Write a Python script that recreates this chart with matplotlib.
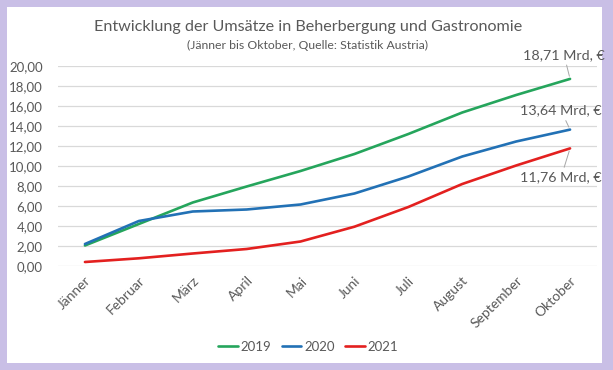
import matplotlib
matplotlib.use("Agg")
import matplotlib.pyplot as plt
from matplotlib.patches import Rectangle

# Daten (Mrd. €)
monate = ['Jänner', 'Februar', 'März', 'April', 'Mai', 'Juni', 'Juli',
          'August', 'September', 'Oktober']
jahre = ['2019', '2020', '2021']
umsatz_2019 = [2.05, 4.2, 6.35, 7.95, 9.5, 11.2, 13.2, 15.35, 17.1, 18.71]
umsatz_2020 = [2.2, 4.5, 5.45, 5.65, 6.15, 7.25, 8.95, 10.95, 12.45, 13.64]
umsatz_2021 = [0.4, 0.77, 1.25, 1.7, 2.45, 3.93, 5.9, 8.2, 10.05, 11.76]
y_ticks = [0, 2, 4, 6, 8, 10, 12, 14, 16, 18, 20]

farben = ['#25a55c', '#2271b5', '#e3201f']
grau = '#595959'

plt.rcParams['font.family'] = ['Lato', 'DejaVu Sans']

fig = plt.figure(figsize=(6.13, 3.70), dpi=100)
fig.patch.set_facecolor('#c9bfe6')
fig.patches.append(Rectangle((7 / 613, 1 - 363 / 370), 595 / 613, 356 / 370,
                             transform=fig.transFigure, facecolor='white',
                             edgecolor='none', zorder=-10))

ax = fig.add_axes([58 / 613, 1 - 266 / 370, 539 / 613, 200 / 370])
ax.set_facecolor('none')

x = list(range(len(monate)))
serien = [umsatz_2019, umsatz_2020, umsatz_2021]
for werte, jahr, farbe in zip(serien, jahre, farben):
    ax.plot(x, werte, color=farbe, lw=1.9, label=jahr, solid_capstyle='round')

ax.set_xlim(-0.5, len(monate) - 0.5)
ax.set_ylim(0, 20)
ax.set_yticks(y_ticks)
ax.set_yticklabels(['{:.2f}'.format(v).replace('.', ',') for v in y_ticks])
ax.set_xticks(x)
ax.set_xticklabels(monate, rotation=45, ha='right', rotation_mode='anchor')
ax.tick_params(length=0, colors=grau, labelsize=9.5)
ax.tick_params(axis='x', pad=6, labelsize=10)
ax.tick_params(axis='y', pad=11)
ax.grid(axis='y', color='#d9d9d9', lw=0.9)
ax.set_axisbelow(True)
for s in ax.spines.values():
    s.set_visible(False)

# Beschriftung der Endwerte
offsets = [(-6, 24), (-9, 19), (-9, -29)]
for werte, farbe, off in zip(serien, farben, offsets):
    txt = '{:.2f} Mrd. €'.format(werte[-1]).replace('.', ',')
    ax.annotate(txt, xy=(x[-1], werte[-1]), xytext=off,
                textcoords='offset pixels', ha='center', va='center',
                color=grau, fontsize=10.3, annotation_clip=False,
                arrowprops=dict(arrowstyle='-', color='#a6a6a6', lw=0.7,
                                shrinkA=1, shrinkB=2))

fig.text(0.502, 1 - 27 / 370, 'Entwicklung der Umsätze in Beherbergung und Gastronomie',
         ha='center', va='center', fontsize=11.6, color=grau)
fig.text(0.502, 1 - 45 / 370, '(Jänner bis Oktober, Quelle: Statistik Austria)',
         ha='center', va='center', fontsize=8.8, color=grau)

leg = fig.legend(loc='center', bbox_to_anchor=(308 / 613, 1 - 347 / 370), ncol=3,
                 frameon=False, fontsize=9.5, handlelength=1.5, handletextpad=0.2,
                 columnspacing=0.8)
for t in leg.get_texts():
    t.set_color(grau)

fig.savefig('out.png', dpi=100, facecolor=fig.get_facecolor())
